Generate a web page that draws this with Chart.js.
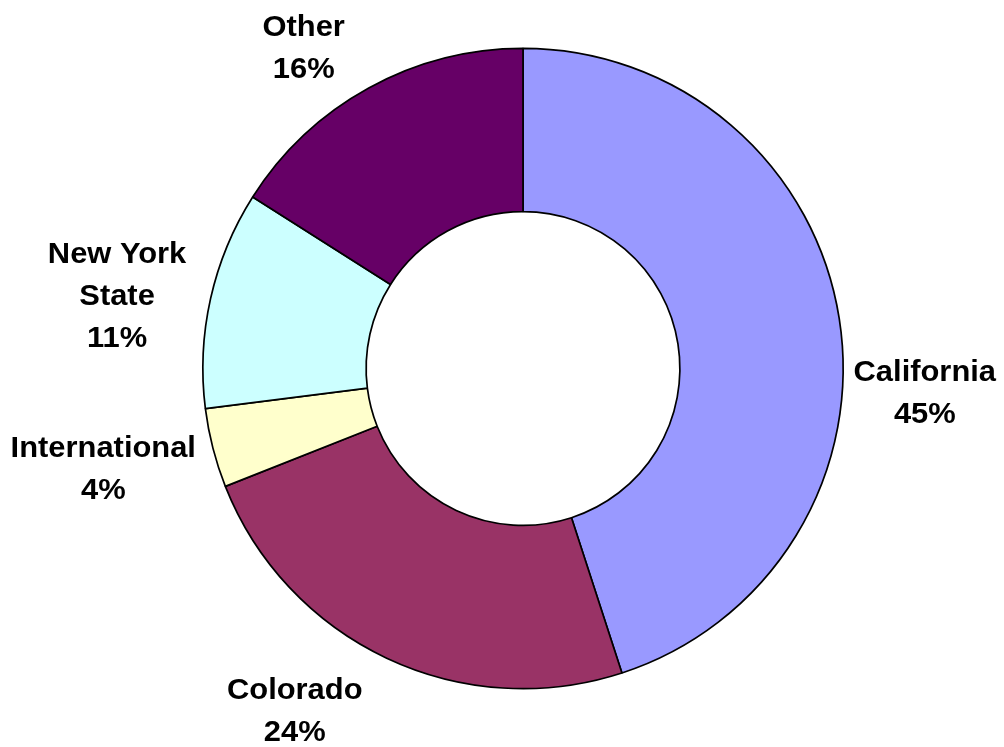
<!DOCTYPE html>
<html>
<head>
<meta charset="utf-8">
<script src="https://cdn.jsdelivr.net/npm/chart.js@4/dist/chart.umd.min.js"></script>
<style>
    html, body { margin: 0; padding: 0; background: #ffffff; }
    #wrap { width: 1004px; height: 747px; }
</style>
</head>
<body>
<div id="wrap"><canvas id="donutChart" width="1004" height="747"></canvas></div>
<script>
// Данные диаграммы
const labels = ['California', 'Colorado', 'International', 'New York State', 'Other'];
const labelLines = [['California'], ['Colorado'], ['International'], ['New York', 'State'], ['Other']];
const shares = [45, 24, 4, 11, 16];
const sliceColors = ['#9999FF', '#993366', '#FFFFCC', '#CCFFFF', '#660066'];

// Смещение центра подписи от центра кольца (в долях внешнего радиуса)
const labelOffsets = [[1.255, 0.072], [-0.713, 1.067], [-1.311, 0.31], [-1.268, -0.232], [-0.685, -1.005]];

document.addEventListener('DOMContentLoaded', () => {
    // Плагин: подписи вокруг кольца (жирный Arial, слегка растянутый по горизонтали)
    const outsideLabels = {
        id: 'outsideLabels',
        afterDatasetsDraw(chart) {
            const ctx = chart.ctx;
            const meta = chart.getDatasetMeta(0);
            const arc0 = meta.data[0];
            const cx = arc0.x, cy = arc0.y, r = arc0.outerRadius;
            const fontSize = 29;
            const capH = fontSize * 0.716;
            const lineH = 42;
            const stretch = 1.065;

            ctx.save();
            ctx.fillStyle = '#000000';
            ctx.font = `bold ${fontSize}px "Liberation Sans", Arial, sans-serif`;
            ctx.textAlign = 'center';
            ctx.textBaseline = 'alphabetic';

            meta.data.forEach((arc, i) => {
                const lines = labelLines[i].concat([shares[i] + '%']);
                const lx = cx + labelOffsets[i][0] * r;
                const ly = cy + labelOffsets[i][1] * r;
                const total = capH + (lines.length - 1) * lineH;
                let y = ly - total / 2 + capH;
                lines.forEach(line => {
                    ctx.save();
                    ctx.translate(lx, y);
                    ctx.scale(stretch, 1);
                    ctx.fillText(line, 0, 0);
                    ctx.restore();
                    y += lineH;
                });
            });
            ctx.restore();
        }
    };

    const ctx = document.getElementById('donutChart').getContext('2d');
    new Chart(ctx, {
        type: 'doughnut',
        data: {
            labels,
            datasets: [{
                data: shares,
                backgroundColor: sliceColors,
                borderColor: '#000000',
                borderWidth: 1.7,
                borderAlign: 'center',
                hoverOffset: 0
            }]
        },
        options: {
            responsive: false,
            animation: false,
            cutout: '49%',
            layout: { padding: { top: 47, bottom: 57, left: 202, right: 160 } },
            plugins: {
                legend: { display: false },
                tooltip: { enabled: false }
            },
            events: []
        },
        plugins: [outsideLabels]
    });
});
</script>
</body>
</html>
